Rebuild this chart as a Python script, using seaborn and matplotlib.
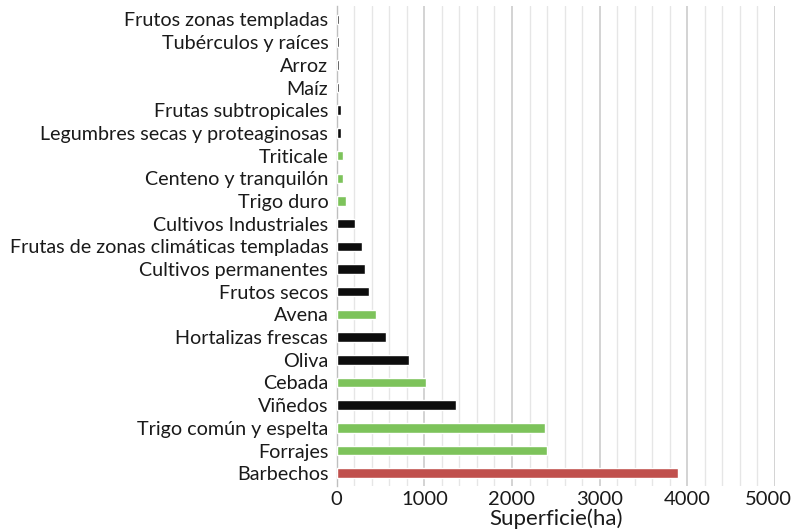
import matplotlib

matplotlib.use("Agg")

import matplotlib.pyplot as plt
import pandas as pd
import seaborn as sns
from matplotlib.ticker import FuncFormatter, MultipleLocator

categories = [
    "Frutos zonas templadas",
    "Tubérculos y raíces",
    "Arroz",
    "Maíz",
    "Frutas subtropicales",
    "Legumbres secas y proteaginosas",
    "Triticale",
    "Centeno y tranquilón",
    "Trigo duro",
    "Cultivos Industriales",
    "Frutas de zonas climáticas templadas",
    "Cultivos permanentes",
    "Frutos secos",
    "Avena",
    "Hortalizas frescas",
    "Oliva",
    "Cebada",
    "Viñedos",
    "Trigo común y espelta",
    "Forrajes",
    "Barbechos",
]
superficie = [28, 28, 28, 30, 50, 48, 68, 68, 103, 205, 285, 323, 365, 445, 563, 825, 1023, 1360, 2375, 2398, 3896]
grupo = ["otro"] * 6 + ["cereal"] * 3 + ["otro"] * 4 + ["cereal", "otro", "otro", "cereal", "otro", "cereal", "cereal", "barbecho"]

colores = {"otro": "#0d0d0d", "cereal": "#7dc35b", "barbecho": "#c0504d"}
x_max = 5000

df = pd.DataFrame({"cultivo": categories, "superficie": superficie, "grupo": grupo})

sns.set_theme(style="white")
plt.rcParams["font.family"] = ["Lato", "DejaVu Sans"]

fig = plt.figure(figsize=(7.94, 5.32), dpi=100)
ax = fig.add_axes([0.424, 0.087, 0.552, 0.902])

sns.barplot(
    data=df, x="superficie", y="cultivo", hue="grupo", palette=colores,
    orient="h", width=0.42, dodge=False, legend=False, ax=ax, saturation=1,
    zorder=3,
)

ax.set_xlim(0, x_max)
ax.set_ylim(len(categories) - 0.45, -0.6)
ax.xaxis.set_major_locator(MultipleLocator(1000))
ax.xaxis.set_minor_locator(MultipleLocator(200))
# last label is drawn separately, nudged left so it stays inside the figure
ax.xaxis.set_major_formatter(FuncFormatter(lambda v, _: "" if v >= x_max else f"{v:.0f}"))
ax.grid(axis="x", which="major", color="#c8c8c8", linewidth=1.1)
ax.grid(axis="x", which="minor", color="#e6e6e6", linewidth=1.0)
ax.set_axisbelow(True)
for side in ["top", "right", "bottom"]:
    ax.spines[side].set_visible(False)
ax.spines["left"].set_color("#bfbfbf")
ax.spines["left"].set_linewidth(1.0)
ax.tick_params(axis="both", which="both", length=0, colors="#1a1a1a")
ax.tick_params(axis="y", labelsize=14.2, pad=6)
ax.tick_params(axis="x", labelsize=14.5, pad=4)
ax.annotate(
    f"{x_max}", xy=(x_max, 0), xycoords=("data", "axes fraction"),
    xytext=(-5, -4), textcoords="offset points",
    ha="center", va="top", fontsize=14.5, color="#1a1a1a",
)

ax.set_ylabel("")
ax.set_xlabel("Superficie(ha)", fontsize=16, color="#1a1a1a", labelpad=0)

fig.savefig("out.png", dpi=100, facecolor="white")
